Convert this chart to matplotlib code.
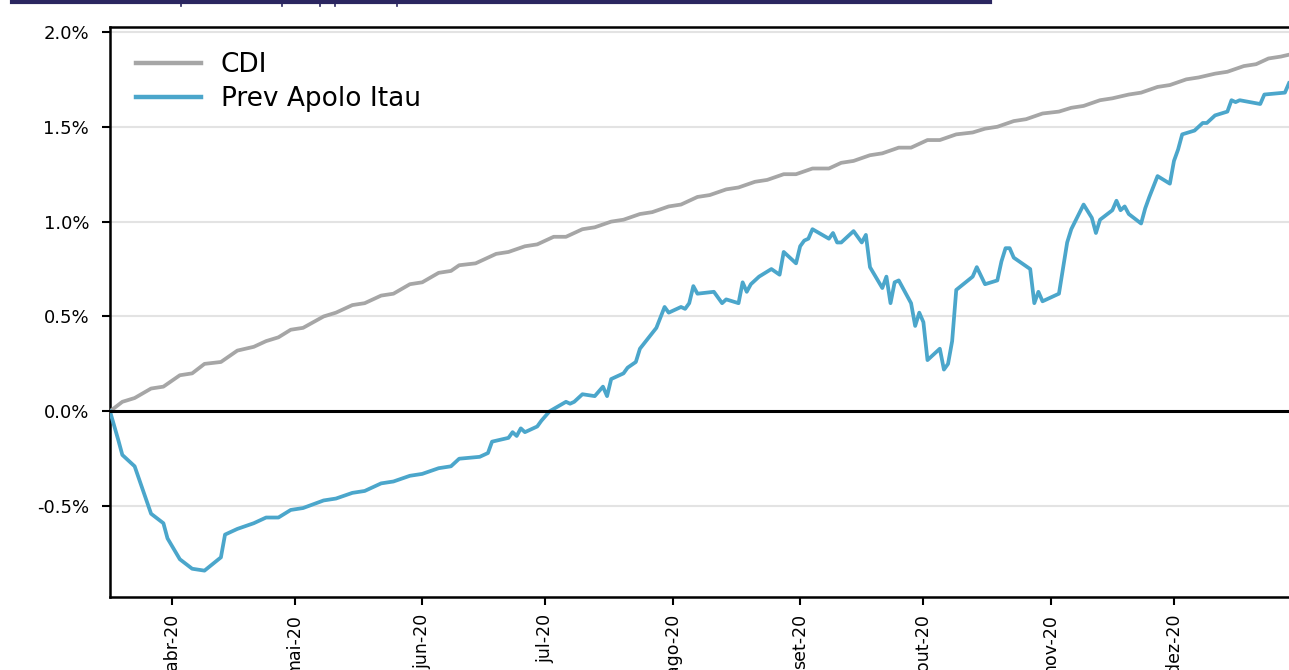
import numpy as np
import pandas as pd
import matplotlib
matplotlib.use("Agg")
import matplotlib.pyplot as plt
import matplotlib.dates as mdates
from matplotlib.lines import Line2D

# Dados (retorno acumulado em %)

cdi_datas = [
    "2020-03-17", "2020-03-20", "2020-03-23", "2020-03-27", "2020-03-30", "2020-04-03",
    "2020-04-06", "2020-04-09", "2020-04-13", "2020-04-17", "2020-04-21", "2020-04-24",
    "2020-04-27", "2020-04-30", "2020-05-03", "2020-05-08", "2020-05-11", "2020-05-15",
    "2020-05-18", "2020-05-22", "2020-05-25", "2020-05-29", "2020-06-01", "2020-06-05",
    "2020-06-08", "2020-06-10", "2020-06-14", "2020-06-19", "2020-06-22", "2020-06-26",
    "2020-06-29", "2020-07-03", "2020-07-06", "2020-07-10", "2020-07-13", "2020-07-17",
    "2020-07-20", "2020-07-24", "2020-07-27", "2020-07-31", "2020-08-03", "2020-08-07",
    "2020-08-10", "2020-08-14", "2020-08-17", "2020-08-21", "2020-08-24", "2020-08-28",
    "2020-08-31", "2020-09-04", "2020-09-08", "2020-09-11", "2020-09-14", "2020-09-18",
    "2020-09-21", "2020-09-25", "2020-09-28", "2020-10-02", "2020-10-05", "2020-10-09",
    "2020-10-13", "2020-10-16", "2020-10-19", "2020-10-23", "2020-10-26", "2020-10-30",
    "2020-11-03", "2020-11-06", "2020-11-09", "2020-11-13", "2020-11-16", "2020-11-20",
    "2020-11-23", "2020-11-27", "2020-11-30", "2020-12-04", "2020-12-07", "2020-12-11",
    "2020-12-14", "2020-12-18", "2020-12-21", "2020-12-24", "2020-12-27", "2020-12-29",
]
cdi_valores = [
    0.00, 0.05, 0.07, 0.12, 0.13, 0.19,
    0.20, 0.25, 0.26, 0.32, 0.34, 0.37,
    0.39, 0.43, 0.44, 0.50, 0.52, 0.56,
    0.57, 0.61, 0.62, 0.67, 0.68, 0.73,
    0.74, 0.77, 0.78, 0.83, 0.84, 0.87,
    0.88, 0.92, 0.92, 0.96, 0.97, 1.00,
    1.01, 1.04, 1.05, 1.08, 1.09, 1.13,
    1.14, 1.17, 1.18, 1.21, 1.22, 1.25,
    1.25, 1.28, 1.28, 1.31, 1.32, 1.35,
    1.36, 1.39, 1.39, 1.43, 1.43, 1.46,
    1.47, 1.49, 1.50, 1.53, 1.54, 1.57,
    1.58, 1.60, 1.61, 1.64, 1.65, 1.67,
    1.68, 1.71, 1.72, 1.75, 1.76, 1.78,
    1.79, 1.82, 1.83, 1.86, 1.87, 1.88,
]

apolo_datas = [
    "2020-03-17", "2020-03-19", "2020-03-20", "2020-03-23", "2020-03-27", "2020-03-30",
    "2020-03-31", "2020-04-03", "2020-04-06", "2020-04-09", "2020-04-13", "2020-04-14",
    "2020-04-17", "2020-04-21", "2020-04-24", "2020-04-27", "2020-04-30", "2020-05-03",
    "2020-05-08", "2020-05-11", "2020-05-15", "2020-05-18", "2020-05-22", "2020-05-25",
    "2020-05-29", "2020-06-01", "2020-06-05", "2020-06-08", "2020-06-10", "2020-06-15",
    "2020-06-17", "2020-06-18", "2020-06-22", "2020-06-23", "2020-06-24", "2020-06-25",
    "2020-06-26", "2020-06-29", "2020-06-30", "2020-07-02", "2020-07-06", "2020-07-07",
    "2020-07-08", "2020-07-10", "2020-07-13", "2020-07-15", "2020-07-16", "2020-07-17",
    "2020-07-20", "2020-07-21", "2020-07-23", "2020-07-24", "2020-07-28", "2020-07-30",
    "2020-07-31", "2020-08-03", "2020-08-04", "2020-08-05", "2020-08-06", "2020-08-07",
    "2020-08-11", "2020-08-13", "2020-08-14", "2020-08-17", "2020-08-18", "2020-08-19",
    "2020-08-20", "2020-08-22", "2020-08-25", "2020-08-27", "2020-08-28", "2020-08-31",
    "2020-09-01", "2020-09-02", "2020-09-03", "2020-09-04", "2020-09-08", "2020-09-09",
    "2020-09-10", "2020-09-11", "2020-09-14", "2020-09-16", "2020-09-17", "2020-09-18",
    "2020-09-21", "2020-09-22", "2020-09-23", "2020-09-24", "2020-09-25", "2020-09-28",
    "2020-09-29", "2020-09-30", "2020-10-01", "2020-10-02", "2020-10-05", "2020-10-06",
    "2020-10-07", "2020-10-08", "2020-10-09", "2020-10-13", "2020-10-14", "2020-10-16",
    "2020-10-19", "2020-10-20", "2020-10-21", "2020-10-22", "2020-10-23", "2020-10-27",
    "2020-10-28", "2020-10-29", "2020-10-30", "2020-11-03", "2020-11-05", "2020-11-06",
    "2020-11-09", "2020-11-11", "2020-11-12", "2020-11-13", "2020-11-16", "2020-11-17",
    "2020-11-18", "2020-11-19", "2020-11-20", "2020-11-23", "2020-11-24", "2020-11-25",
    "2020-11-27", "2020-11-30", "2020-12-01", "2020-12-02", "2020-12-03", "2020-12-06",
    "2020-12-08", "2020-12-09", "2020-12-11", "2020-12-14", "2020-12-15", "2020-12-16",
    "2020-12-17", "2020-12-22", "2020-12-23", "2020-12-28", "2020-12-29",
]
apolo_valores = [
    0.00, -0.15, -0.23, -0.29, -0.54, -0.59,
    -0.67, -0.78, -0.83, -0.84, -0.77, -0.65,
    -0.62, -0.59, -0.56, -0.56, -0.52, -0.51,
    -0.47, -0.46, -0.43, -0.42, -0.38, -0.37,
    -0.34, -0.33, -0.30, -0.29, -0.25, -0.24,
    -0.22, -0.16, -0.14, -0.11, -0.13, -0.09,
    -0.11, -0.08, -0.05, 0.00, 0.05, 0.04,
    0.05, 0.09, 0.08, 0.13, 0.08, 0.17,
    0.20, 0.23, 0.26, 0.33, 0.44, 0.55,
    0.52, 0.55, 0.54, 0.57, 0.66, 0.62,
    0.63, 0.57, 0.59, 0.57, 0.68, 0.63,
    0.67, 0.71, 0.75, 0.72, 0.84, 0.78,
    0.87, 0.90, 0.91, 0.96, 0.91, 0.94,
    0.89, 0.89, 0.95, 0.89, 0.93, 0.76,
    0.65, 0.71, 0.57, 0.68, 0.69, 0.57,
    0.45, 0.52, 0.47, 0.27, 0.33, 0.22,
    0.25, 0.37, 0.64, 0.71, 0.76, 0.67,
    0.69, 0.79, 0.86, 0.86, 0.81, 0.75,
    0.57, 0.63, 0.58, 0.62, 0.89, 0.96,
    1.09, 1.02, 0.94, 1.01, 1.06, 1.11,
    1.06, 1.08, 1.04, 0.99, 1.07, 1.13,
    1.24, 1.20, 1.32, 1.38, 1.46, 1.48,
    1.52, 1.52, 1.56, 1.58, 1.64, 1.63,
    1.64, 1.62, 1.67, 1.68, 1.73,
]

meses_ticks = ["2020-04-01", "2020-05-01", "2020-06-01", "2020-07-01", "2020-08-01",
               "2020-09-01", "2020-10-01", "2020-11-01", "2020-12-01"]
meses_labels = ["abr-20", "mai-20", "jun-20", "jul-20", "ago-20",
                "set-20", "out-20", "nov-20", "dez-20"]
y_ticks = [-0.5, 0.0, 0.5, 1.0, 1.5, 2.0]

# Figura

W, H = 1289, 670
fig = plt.figure(figsize=(W / 100, H / 100), dpi=100)
ax = fig.add_axes([110 / W, (H - 597) / H, 1179 / W, 570 / H])

cinza = "#a6a6a6"
azul = "#4ba6cb"

ax.plot(pd.to_datetime(cdi_datas), cdi_valores, color=cinza, lw=2.7, label="CDI", zorder=3)
ax.plot(pd.to_datetime(apolo_datas), apolo_valores, color=azul, lw=2.7,
        label="Prev Apolo Itau", zorder=4)
ax.axhline(0, color="black", lw=2.2, zorder=5)

ax.set_xlim(pd.Timestamp("2020-03-17"), pd.Timestamp("2020-12-29"))
ax.set_ylim(-0.979, 2.026)

ax.set_yticks(y_ticks)
ax.set_yticklabels([f"{v:.1f}%" for v in y_ticks], fontsize=13)
ax.yaxis.grid(True, color="#e3e3e3", lw=1.5)
ax.set_axisbelow(True)

ax.set_xticks(mdates.date2num(pd.to_datetime(meses_ticks)))
ax.set_xticklabels(meses_labels, rotation=90, fontsize=12.5)

ax.tick_params(axis="both", length=6, width=1.5, color="black")
ax.tick_params(axis="x", pad=6)
ax.tick_params(axis="y", pad=9)
for lado in ["left", "bottom", "top"]:
    ax.spines[lado].set_linewidth(1.8)
    ax.spines[lado].set_color("black")
ax.spines["right"].set_visible(False)

leg = ax.legend(loc="upper left", bbox_to_anchor=(0.002, 0.998), frameon=False,
                fontsize=19, handlelength=2.45, handletextpad=0.75, labelspacing=0.3)
for h in leg.get_lines():
    h.set_linewidth(3.2)

# Linha escura do titulo (cortado no topo da imagem)
fig.add_artist(Line2D([12 / W, 990 / W], [1 - 2 / H, 1 - 2 / H], color="#2b2660", lw=3))
for xm in [543, 845, 960, 1005, 1190]:
    xp = xm / 3
    fig.add_artist(Line2D([xp / W, xp / W], [1 - 0.5 / H, 1 - 6 / H], color="#2b2660", lw=1.2))

fig.savefig("out.png", dpi=100)
